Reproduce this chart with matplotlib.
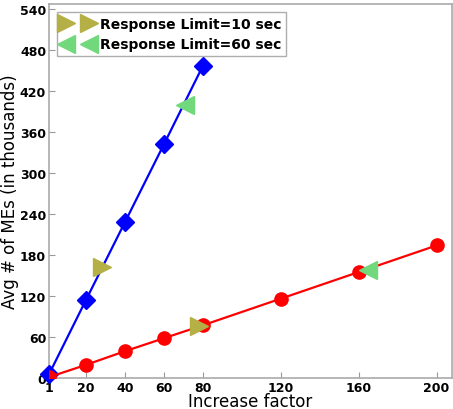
import matplotlib
matplotlib.use('Agg')
import matplotlib.pyplot as plt

# increase factors and average number of MEs (thousands)
fast_x = [1, 20, 40, 60, 80]
fast_y = [5, 114, 228, 342, 457]
slow_x = [1, 20, 40, 60, 80, 120, 160, 200]
slow_y = [1, 19, 39, 58, 77, 116, 155, 194]

# where each response limit is reached on the two curves
limit10_x = [28.5, 78]
limit10_y = [163, 76]
limit60_x = [71, 165]
limit60_y = [400, 158]

xticks = [1, 20, 40, 60, 80, 120, 160, 200]
yticks = [0, 60, 120, 180, 240, 300, 360, 420, 480, 540]

fig = plt.figure(figsize=(4.53, 4.10), dpi=100)
ax = fig.add_axes([0.108, 0.076, 0.89, 0.912])

ax.plot(fast_x, fast_y, color='blue', lw=1.6, marker='D', ms=9,
        mec='blue', clip_on=False, zorder=3)
ax.plot(slow_x, slow_y, color='red', lw=1.6, marker='o', ms=9.5,
        mec='red', zorder=3)
ax.plot(limit10_x, limit10_y, ls='none', marker='>', ms=13,
        color='#b5b045', mec='#b5b045', zorder=4,
        label='Response Limit=10 sec')
ax.plot(limit60_x, limit60_y, ls='none', marker='<', ms=13,
        color='#72d87c', mec='#72d87c', zorder=4,
        label='Response Limit=60 sec')

ax.set_xlim(1, 208)
ax.set_ylim(0, 548)
ax.set_xticks(xticks)
ax.set_yticks(yticks)
ax.tick_params(direction='in', length=4, color='#999999', pad=2)
for lab in ax.get_xticklabels() + ax.get_yticklabels():
    lab.set_fontweight('bold')
    lab.set_fontsize(9)
for sp in ax.spines.values():
    sp.set_color('#aaaaaa')
    sp.set_linewidth(1.2)

ax.set_xlabel('Increase factor', fontsize=12, labelpad=-1)
ax.set_ylabel('Avg # of MEs (in thousands)', fontsize=12, labelpad=1)

leg = ax.legend(loc='upper left', numpoints=2, prop={'weight': 'bold', 'size': 10},
                fancybox=False, borderaxespad=0.6, handletextpad=0.5,
                labelspacing=0.45, borderpad=0.35, handlelength=2.2)
leg.get_frame().set_edgecolor('#999999')

fig.savefig('out.png', dpi=100)
